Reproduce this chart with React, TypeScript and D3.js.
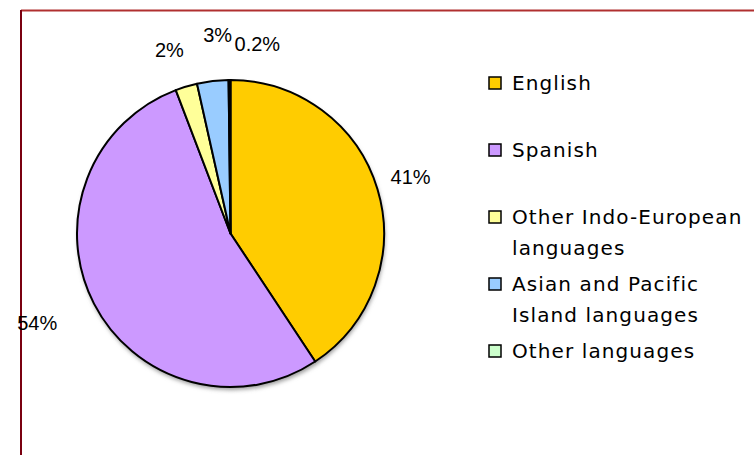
import React from "react";
import * as d3 from "d3";

const categories = [
  "English",
  "Spanish",
  "Other Indo-European languages",
  "Asian and Pacific Island languages",
  "Other languages",
];
const values = [40.7, 53.5, 2.3, 3.3, 0.2];
const colors = ["#FFCC00", "#CC99FF", "#FFFF99", "#99CCFF", "#CCFFCC"];

const W = 754;
const H = 455;
const cx = 230.5;
const cy = 233.5;
const R = 153.5;
const labelR = 188;
const labelNudge: [number, number][] = [
  [0, -2.5],
  [-26, 3.5],
  [-7, -3.5],
  [9, -12],
  [28, -2],
];

function fmt(v: number) {
  return v < 1 ? `${v.toFixed(1)}%` : `${Math.round(v)}%`;
}

function wrap(s: string, max: number) {
  const words = s.split(" ");
  const lines: string[] = [];
  let cur = "";
  for (const w of words) {
    const t = cur ? cur + " " + w : w;
    if (t.length > max && cur) {
      lines.push(cur);
      cur = w;
    } else cur = t;
  }
  if (cur) lines.push(cur);
  return lines;
}

export default function App() {
  const pie = d3.pie<number>().sort(null).value((d) => d);
  const arcs = pie(values);
  const arc = d3.arc<d3.PieArcDatum<number>>().innerRadius(0).outerRadius(R);
  const legendX = 489;
  const legendY0 = 90;
  const legendStep = 67;
  const lineStep = 31;

  return (
    <svg
      width={W}
      height={H}
      style={{ position: "absolute", left: 0, top: 0 }}
      xmlns="http://www.w3.org/2000/svg"
    >
      <rect x={0} y={0} width={W} height={H} fill="#fff" />
      <line x1={21} y1={10.5} x2={W} y2={10.5} stroke="#B03030" strokeWidth={2} />
      <line x1={21} y1={10} x2={21} y2={H} stroke="#7A0010" strokeWidth={2} />
      <defs>
        <filter id="sh" x="-20%" y="-20%" width="140%" height="140%">
          <feGaussianBlur stdDeviation="2" />
        </filter>
      </defs>
      <circle cx={cx + 1} cy={cy + 3} r={R} fill="#999" filter="url(#sh)" />
      <g transform={`translate(${cx},${cy})`}>
        {arcs.map((a, i) => (
          <path
            key={i}
            d={arc(a) || ""}
            fill={colors[i]}
            stroke="#000"
            strokeWidth={2}
            strokeLinejoin="round"
          />
        ))}
      </g>
      {arcs.map((a, i) => {
        const mid = (a.startAngle + a.endAngle) / 2;
        const x = cx + labelR * Math.sin(mid) + labelNudge[i][0];
        const y = cy - labelR * Math.cos(mid) + labelNudge[i][1];
        return (
          <text
            key={i}
            x={x}
            y={y}
            textAnchor="middle"
            dominantBaseline="central"
            fontFamily="Liberation Sans, Arial, sans-serif"
            fontSize={20}
            fill="#000"
          >
            {fmt(values[i])}
          </text>
        );
      })}
      {categories.map((c, i) => {
        const base = legendY0 + i * legendStep;
        const lines = wrap(c, 20);
        return (
          <g key={i}>
            <rect
              x={legendX}
              y={base - 13}
              width={12}
              height={12}
              fill={colors[i]}
              stroke="#000"
              strokeWidth={1.5}
            />
            {lines.map((l, j) => (
              <text
                key={j}
                x={512}
                y={base + j * lineStep}
                fontFamily="DejaVu Sans, sans-serif"
                fontSize={20}
                letterSpacing={1.1}
                fill="#000"
              >
                {l}
              </text>
            ))}
          </g>
        );
      })}
    </svg>
  );
}
